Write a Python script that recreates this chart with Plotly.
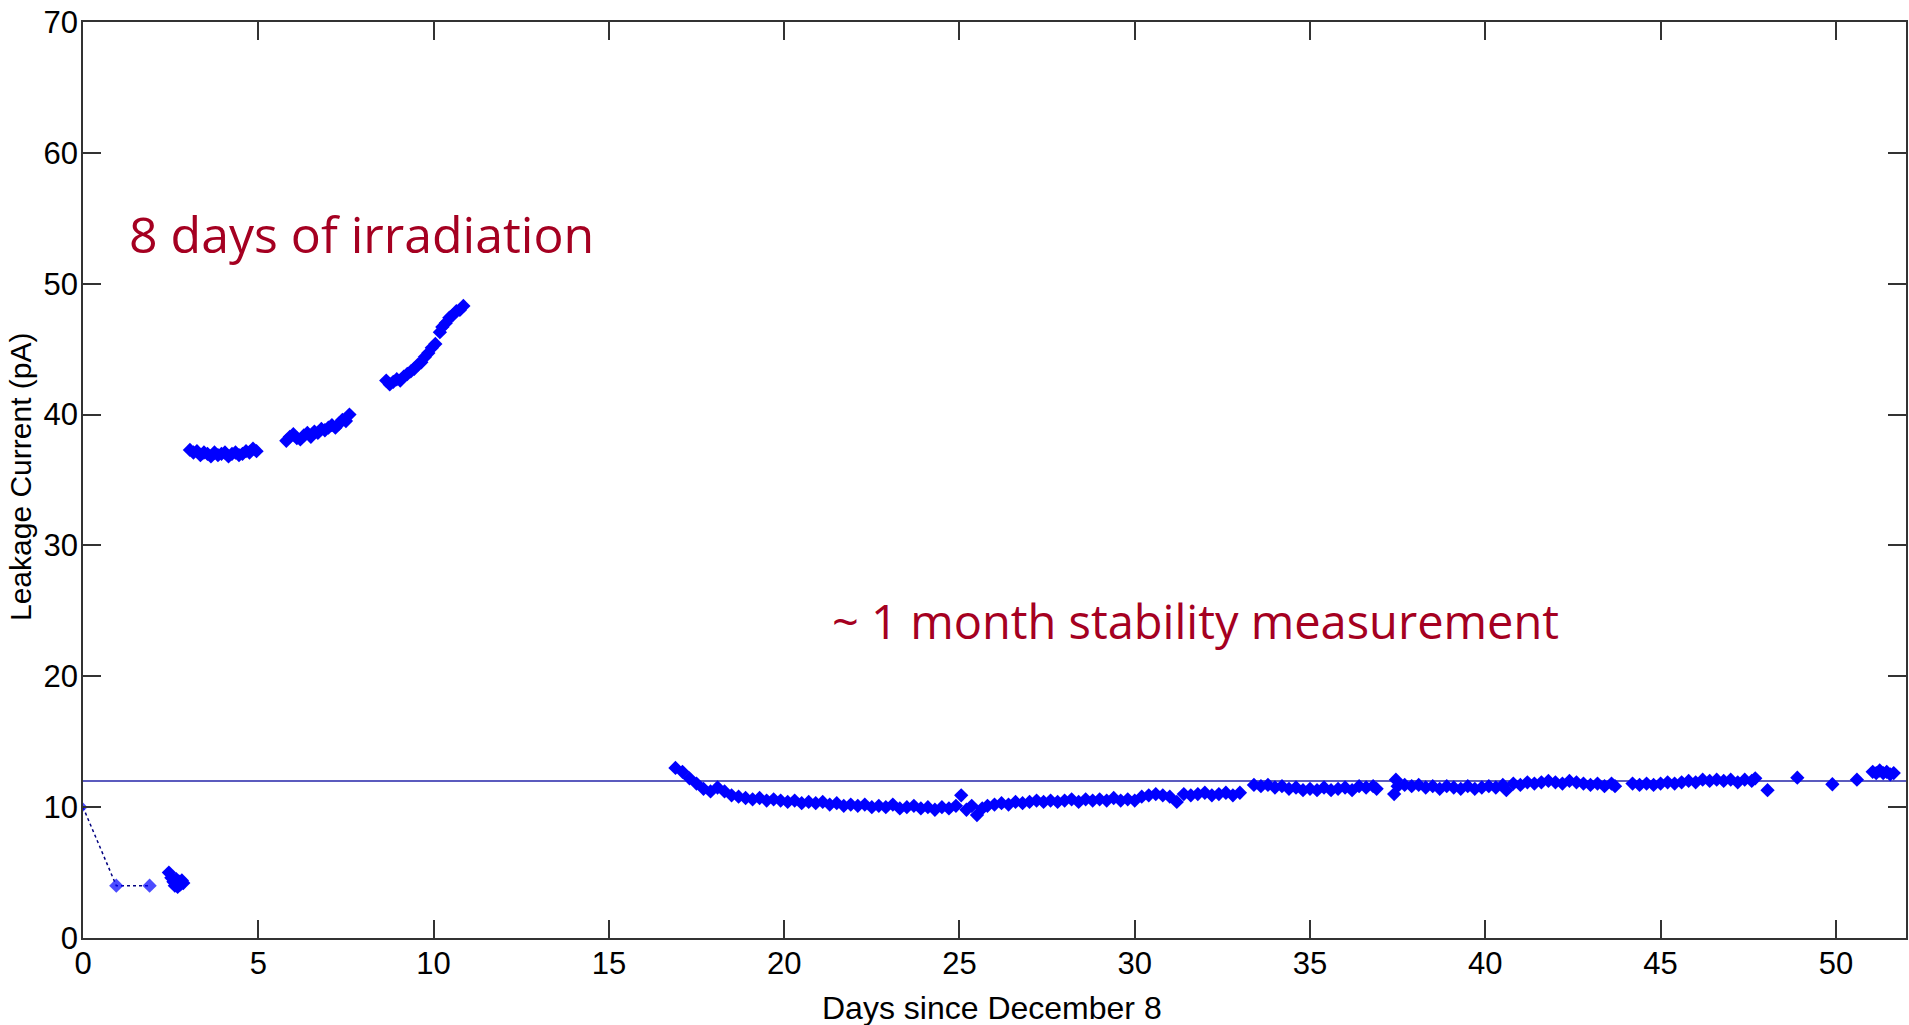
import plotly.graph_objects as go

# ---- data ----
# pre-irradiation points (connected with a dotted line)
pre_days = [0.0, 0.95, 1.9]
pre_current = [10.0, 4.0, 4.0]

# short cluster before irradiation
clu_days = [2.45, 2.52, 2.58, 2.62, 2.66, 2.70, 2.74, 2.78, 2.82, 2.86]
clu_current = [5.0, 4.6, 4.3, 4.0, 4.5, 3.9, 4.3, 4.1, 4.4, 4.2]

# irradiation, run 1
irr1_days = [3.05, 3.15, 3.25, 3.35, 3.45, 3.55, 3.65, 3.75, 3.85, 3.95,
             4.05, 4.15, 4.25, 4.35, 4.45, 4.55, 4.65, 4.75, 4.85, 4.95]
irr1_current = [37.3, 37.1, 37.2, 36.9, 37.1, 37.0, 36.8, 37.1, 36.9, 37.0,
                37.1, 36.8, 37.0, 37.1, 36.9, 37.0, 37.2, 37.1, 37.4, 37.2]

# irradiation, run 2
irr2_days = [5.8, 5.9, 6.0, 6.1, 6.2, 6.3, 6.4, 6.5, 6.6, 6.7,
             6.8, 6.9, 7.0, 7.1, 7.2, 7.3, 7.4, 7.5, 7.6]
irr2_current = [38.0, 38.3, 38.5, 38.2, 38.1, 38.4, 38.6, 38.3, 38.7, 38.6,
                38.9, 38.8, 39.0, 39.2, 39.0, 39.3, 39.6, 39.5, 40.0]

# irradiation, run 3
irr3_days = [8.65, 8.75, 8.85, 8.95, 9.05, 9.15, 9.25, 9.35, 9.45, 9.55,
             9.65, 9.75, 9.85, 9.95, 10.05, 10.18, 10.25, 10.35, 10.45, 10.55,
             10.65, 10.75, 10.85]
irr3_current = [42.6, 42.3, 42.5, 42.7, 42.6, 42.9, 43.1, 43.3, 43.5, 43.8,
                44.0, 44.4, 44.7, 45.1, 45.4, 46.3, 46.7, 47.0, 47.4, 47.6,
                47.9, 48.0, 48.3]

# stability measurement, part 1
st1_days = [16.9, 17.1, 17.3, 17.5, 17.7, 17.9, 18.1, 18.3, 18.5, 18.7,
            18.9, 19.1, 19.3, 19.5, 19.7, 19.9, 20.1, 20.3, 20.5, 20.7,
            20.9, 21.1, 21.3, 21.5, 21.7, 21.9, 22.1, 22.3, 22.5, 22.7,
            22.9, 23.1, 23.3, 23.5, 23.7, 23.9, 24.1, 24.3, 24.5, 24.7,
            24.9, 25.05, 25.2, 25.35, 25.5, 25.65, 25.8, 26.0, 26.2, 26.4,
            26.6, 26.8, 27.0, 27.2, 27.4, 27.6, 27.8, 28.0, 28.2, 28.4,
            28.6, 28.8, 29.0, 29.2, 29.4, 29.6, 29.8, 30.0, 30.2, 30.4,
            30.6, 30.8, 31.0, 31.2, 31.4, 31.6, 31.8, 32.0, 32.2, 32.4,
            32.6, 32.8, 33.0]
st1_current = [13.0, 12.7, 12.2, 11.8, 11.4, 11.2, 11.5, 11.2, 10.9, 10.8,
               10.7, 10.6, 10.7, 10.5, 10.6, 10.5, 10.4, 10.5, 10.3, 10.4,
               10.3, 10.4, 10.2, 10.3, 10.1, 10.2, 10.1, 10.2, 10.0, 10.1,
               10.0, 10.2, 9.9, 10.0, 10.1, 9.9, 10.0, 9.8, 10.0, 9.9,
               10.1, 10.9, 9.8, 10.1, 9.4, 9.9, 10.1, 10.2, 10.3, 10.2,
               10.4, 10.3, 10.4, 10.5, 10.4, 10.5, 10.4, 10.5, 10.6, 10.4,
               10.6, 10.5, 10.6, 10.5, 10.7, 10.5, 10.6, 10.5, 10.8, 10.9,
               11.0, 10.9, 10.8, 10.4, 11.0, 10.9, 11.0, 11.1, 10.9, 11.0,
               11.1, 10.9, 11.1]

# stability measurement, part 2
st2_days = [33.4, 33.6, 33.8, 34.0, 34.2, 34.4, 34.6, 34.8, 35.0, 35.2,
            35.4, 35.6, 35.8, 36.0, 36.2, 36.4, 36.6, 36.8, 36.9]
st2_current = [11.7, 11.6, 11.7, 11.5, 11.6, 11.4, 11.5, 11.3, 11.4, 11.3,
               11.5, 11.3, 11.4, 11.5, 11.3, 11.6, 11.5, 11.6, 11.4]

# stability measurement, part 3
st3_days = [37.4, 37.45, 37.5, 37.7, 37.9, 38.1, 38.3, 38.5, 38.7, 38.9,
            39.1, 39.3, 39.5, 39.7, 39.9, 40.1, 40.3, 40.5, 40.6, 40.8,
            41.0, 41.2, 41.4, 41.6, 41.8, 42.0, 42.2, 42.4, 42.6, 42.8,
            43.0, 43.2, 43.4, 43.6, 43.7]
st3_current = [11.0, 12.1, 11.6, 11.7, 11.6, 11.7, 11.5, 11.6, 11.4, 11.6,
               11.5, 11.4, 11.6, 11.4, 11.5, 11.6, 11.5, 11.7, 11.3, 11.8,
               11.7, 11.9, 11.8, 11.9, 12.0, 11.9, 11.8, 12.0, 11.9, 11.8,
               11.7, 11.8, 11.6, 11.8, 11.6]

# stability measurement, part 4
st4_days = [44.2, 44.4, 44.6, 44.8, 45.0, 45.2, 45.4, 45.6, 45.8, 46.0,
            46.2, 46.4, 46.6, 46.8, 47.0, 47.2, 47.4, 47.6, 47.7]
st4_current = [11.8, 11.7, 11.8, 11.7, 11.8, 11.9, 11.8, 11.9, 12.0, 11.9,
               12.1, 12.0, 12.1, 12.0, 12.1, 11.9, 12.1, 12.0, 12.2]

# sparse points and final cluster
late_days = [48.05, 48.9, 49.9, 50.6, 51.05, 51.15, 51.25, 51.35, 51.45, 51.55, 51.65]
late_current = [11.3, 12.25, 11.75, 12.1, 12.7, 12.6, 12.8, 12.6, 12.7, 12.5, 12.6]

REF_LEVEL = 12.0
X_TICKS = [0, 5, 10, 15, 20, 25, 30, 35, 40, 45, 50]
Y_TICKS = [0, 10, 20, 30, 40, 50, 60, 70]

# ---- figure ----
MARK = dict(symbol="diamond", size=11, color="#0000FF", line=dict(width=0))
ANN_COLOR = "#A50021"
TXT_FONT = "Liberation Sans, Arial"

fig = go.Figure()
fig.add_hline(y=REF_LEVEL, line=dict(color="#2424A8", width=1.5), layer="below")

# dotted connection of the first readings
fig.add_trace(go.Scatter(x=pre_days, y=pre_current, mode="lines",
                         line=dict(color="#000080", dash="dot", width=1.5),
                         showlegend=False))
fig.add_trace(go.Scatter(x=pre_days, y=pre_current, mode="markers",
                         marker=dict(symbol="diamond", size=[7, 11, 11], color="#0000FF",
                                     line=dict(width=0)),
                         showlegend=False))
segments = [(clu_days, clu_current), (irr1_days, irr1_current), (irr2_days, irr2_current),
            (irr3_days, irr3_current), (st1_days, st1_current), (st2_days, st2_current),
            (st3_days, st3_current), (st4_days, st4_current), (late_days, late_current)]
for xs, ys in segments:
    fig.add_trace(go.Scatter(x=xs, y=ys, mode="markers", marker=MARK, showlegend=False))

fig.add_annotation(text="8 days of irradiation", x=1.25, y=53.8, xref="x", yref="y",
                   xanchor="left", yanchor="middle", showarrow=False,
                   font=dict(family="Comic Sans MS, Open Sans", size=50, color=ANN_COLOR))
fig.add_annotation(text="~ 1 month stability measurement", x=21.3, y=24.2, xref="x", yref="y",
                   xanchor="left", yanchor="middle", showarrow=False,
                   font=dict(family="Comic Sans MS, Open Sans", size=47, color=ANN_COLOR))

# axis titles
fig.add_annotation(text="Days since December 8", x=0.5, y=0, xref="paper", yref="paper",
                   xanchor="center", yanchor="middle", xshift=-3, yshift=-70, showarrow=False,
                   font=dict(family=TXT_FONT, size=32, color="black"))
fig.add_annotation(text="Leakage Current (pA)", x=0, y=0.5, xref="paper", yref="paper",
                   xanchor="center", yanchor="middle", xshift=-63, yshift=3, textangle=-90,
                   borderpad=0, showarrow=False,
                   font=dict(family=TXT_FONT, size=30, color="black"))

axis_common = dict(showline=True, linecolor="#333333", linewidth=1.5, mirror="ticks",
                   ticks="inside", ticklen=18, tickwidth=1.5, tickcolor="#333333",
                   showgrid=False, zeroline=False, ticklabeloverflow="allow",
                   tickfont=dict(family=TXT_FONT, size=31, color="black"))

fig.update_xaxes(range=[0, 52], tickvals=X_TICKS, ticklabelstandoff=-3, **axis_common)
fig.update_yaxes(range=[0, 70], tickvals=Y_TICKS, ticklabelstandoff=-3, **axis_common)

fig.update_layout(width=1909, height=1025, margin=dict(l=83, r=1, t=22, b=87),
                  paper_bgcolor="white", plot_bgcolor="white")

# remove the page's default body margin so the figure fills the window exactly
fig.write_html("out.html", config={"displayModeBar": False},
               post_script="document.body.style.margin='0';")
